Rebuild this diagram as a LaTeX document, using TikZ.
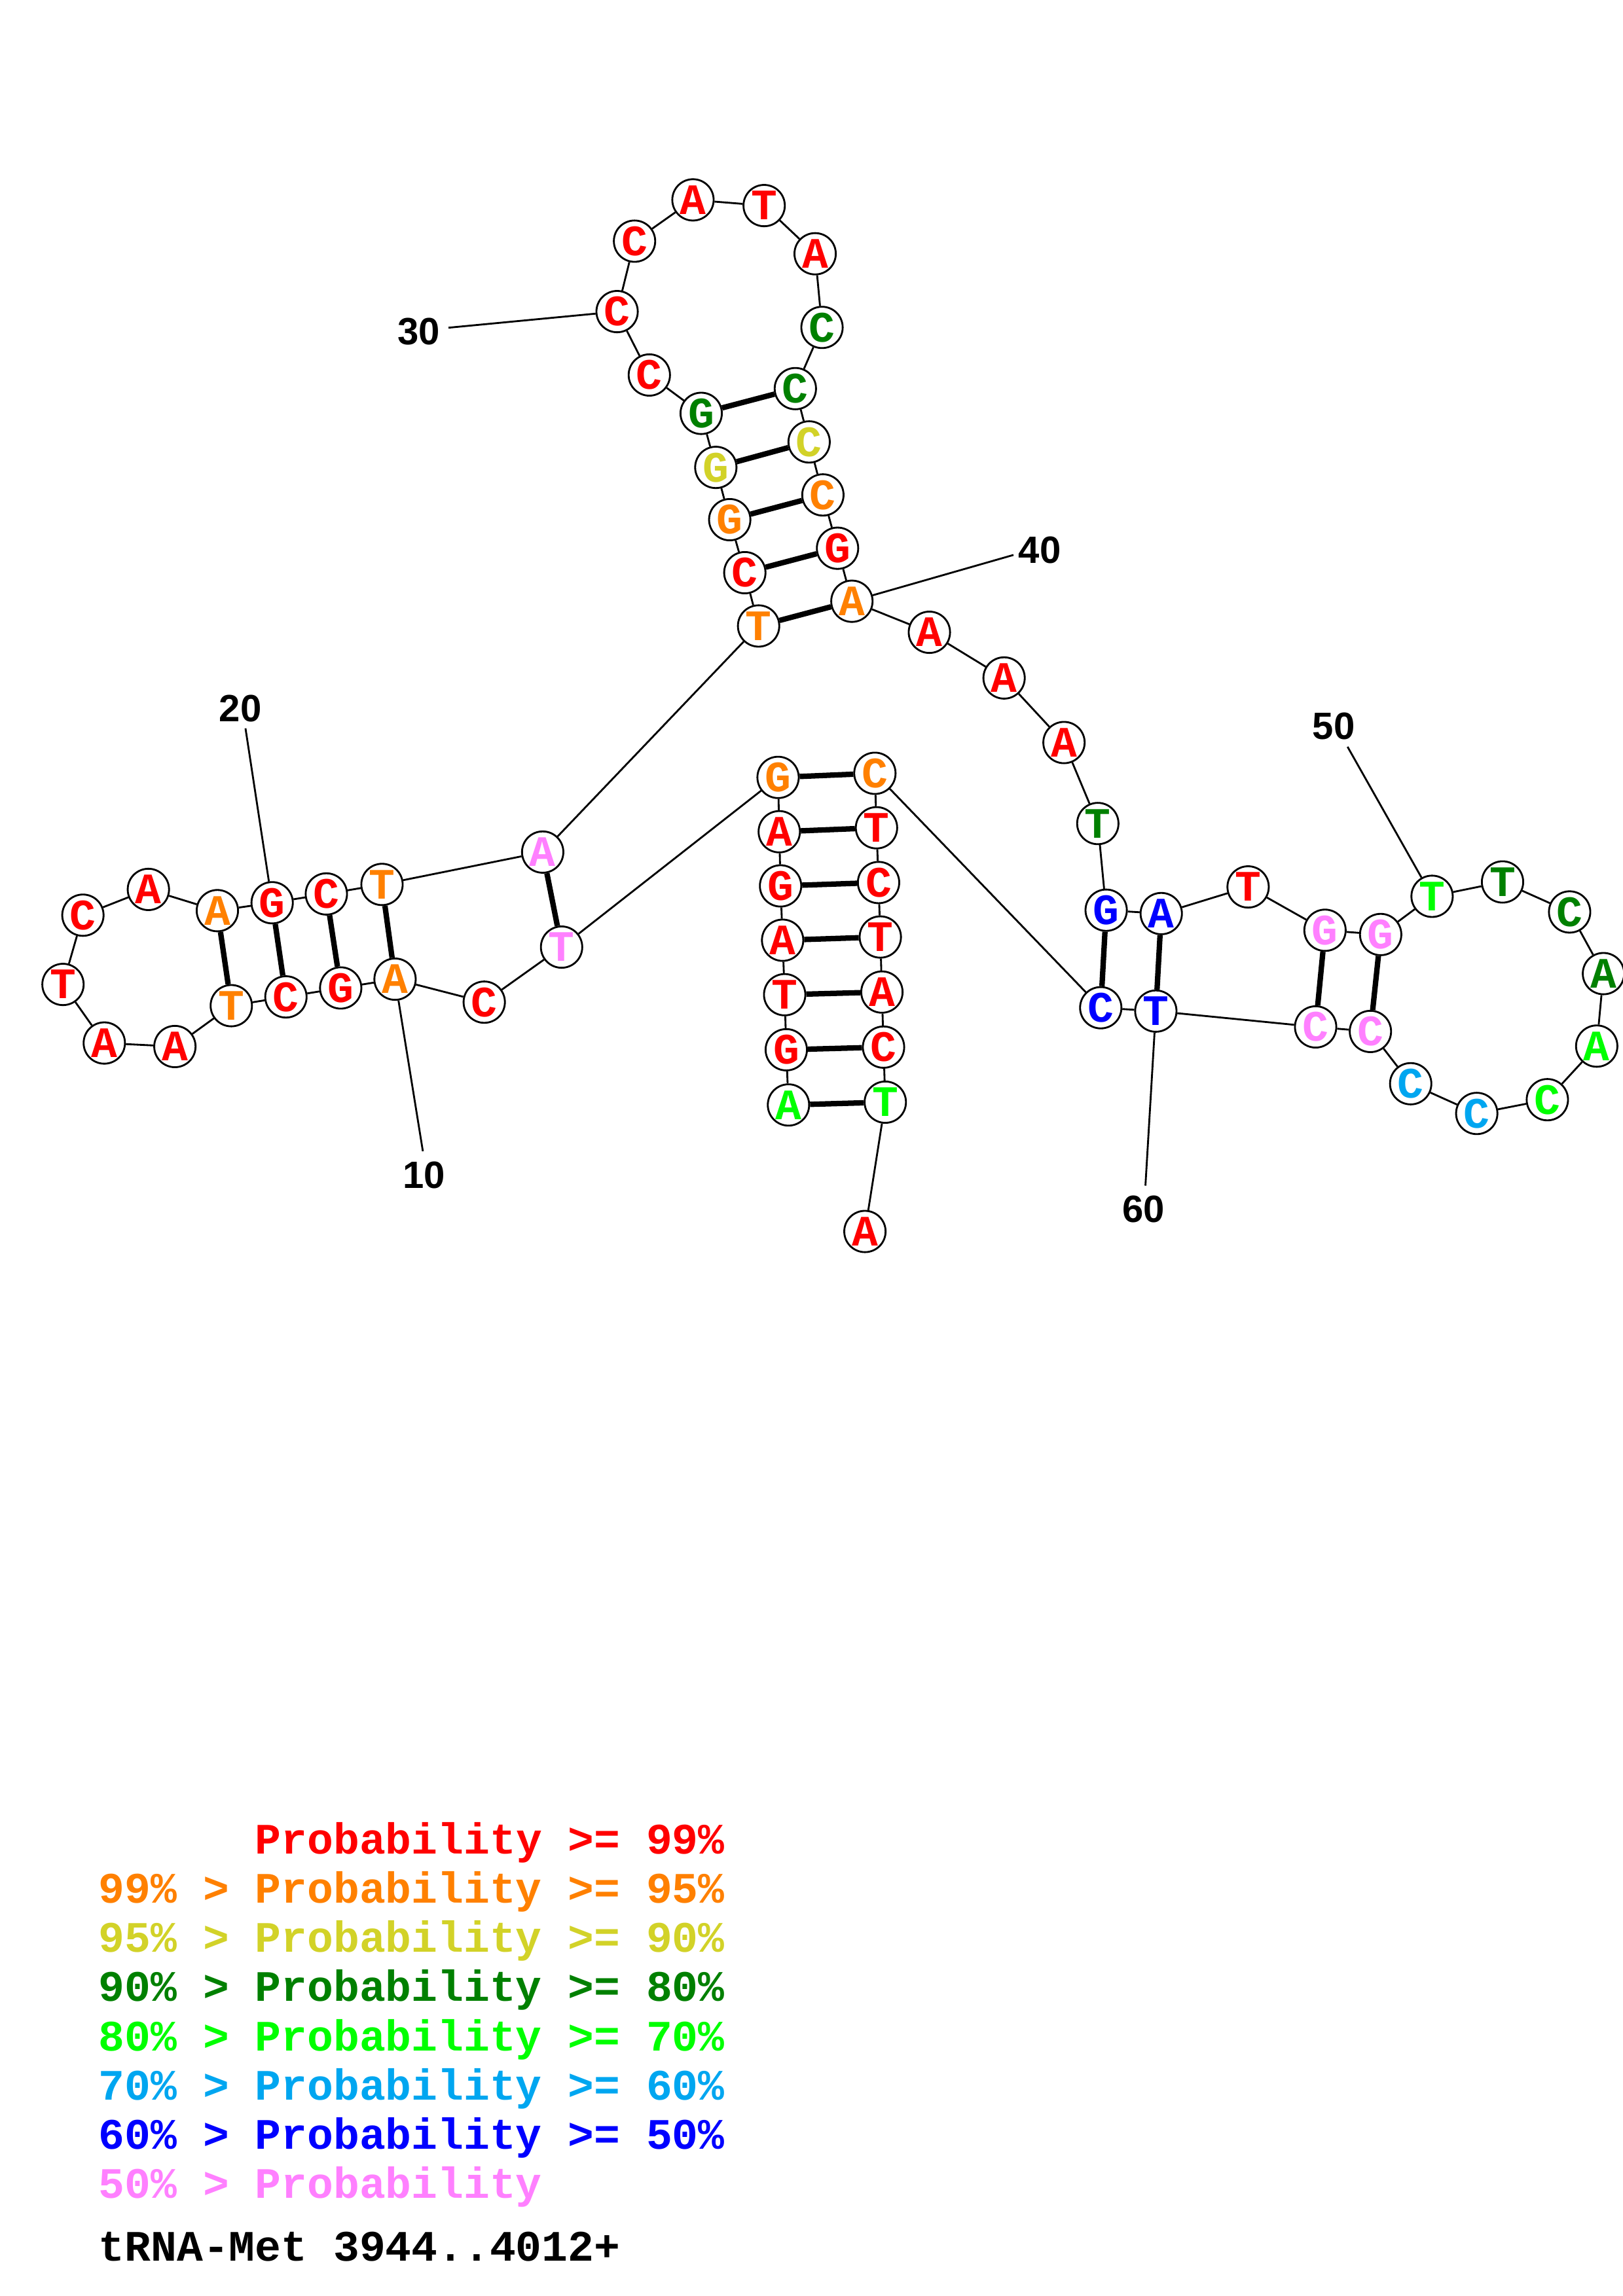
\documentclass[tikz,border=0pt]{standalone}
\usepackage{fontspec}
\setmonofont{Liberation Mono}
\newfontfamily\numfont{Liberation Sans}
\definecolor{pRed}{RGB}{255,0,0}
\definecolor{pOrange}{RGB}{255,128,0}
\definecolor{pYellow}{RGB}{210,210,40}
\definecolor{pDkGreen}{RGB}{0,128,0}
\definecolor{pGreen}{RGB}{0,255,0}
\definecolor{pSky}{RGB}{0,166,240}
\definecolor{pBlue}{RGB}{0,0,255}
\definecolor{pPink}{RGB}{255,128,255}

\begin{document}
\begin{tikzpicture}[
    x=0.189531mm, y=-0.189531mm,
    nt/.style={circle, draw, fill=white, line width=0.24mm, minimum size=5.35mm, inner sep=0pt, font=\ttfamily\bfseries\fontsize{16}{16}\selectfont},
    bb/.style={line width=0.24mm},
    bp/.style={line width=0.7mm},
    numlab/.style={inner sep=0pt, font=\numfont\bfseries\fontsize{14}{14}\selectfont},
    leg/.style={anchor=base west, inner sep=0pt, font=\ttfamily\bfseries\fontsize{16}{16}\selectfont}
]
\useasboundingbox (0,0) rectangle (1108,1568);

% nucleotides: number/x/y/base/colour
\foreach \i/\x/\y/\b/\c in {
    1/538.3/754.6/A/pGreen, 2/536.8/716.9/G/pRed, 3/535.7/679.3/T/pRed,
    4/534.3/642.1/A/pRed, 5/532.9/605.0/G/pRed, 6/532.0/568.0/A/pRed,
    7/531.2/530.9/G/pOrange, 8/383.4/646.8/T/pPink, 9/330.6/684.4/C/pRed,
    10/269.7/668.7/A/pOrange, 11/232.6/674.7/G/pRed, 12/195.2/680.8/C/pRed,
    13/157.9/686.8/T/pOrange, 14/119.4/714.7/A/pRed, 15/71.2/712.3/A/pRed,
    16/43.0/672.3/T/pRed, 17/56.6/625.0/C/pRed, 18/101.3/607.4/A/pRed,
    19/148.4/621.9/A/pOrange, 20/185.8/616.5/G/pRed, 21/222.8/610.5/C/pRed,
    22/260.8/604.0/T/pOrange, 23/370.5/581.9/A/pPink, 24/517.9/427.5/T/pOrange,
    25/508.5/391.1/C/pRed, 26/498.2/354.9/G/pOrange, 27/488.7/319.2/G/pYellow,
    28/478.7/282.3/G/pDkGreen, 29/443.3/256.1/C/pRed, 30/421.3/212.8/C/pRed,
    31/433.2/164.7/C/pRed, 32/473.1/136.5/A/pRed, 33/521.7/140.4/T/pRed,
    34/556.5/173.3/A/pRed, 35/561.2/223.6/C/pDkGreen, 36/543.0/265.4/C/pDkGreen,
    37/552.4/301.8/C/pYellow, 38/561.8/338.0/C/pOrange, 39/571.8/374.4/G/pRed,
    40/581.6/410.6/A/pOrange, 41/634.5/431.8/A/pRed, 42/685.5/463.0/A/pRed,
    43/726.4/507.1/A/pRed, 44/749.5/562.4/T/pDkGreen, 45/755.2/621.6/G/pBlue,
    46/792.8/623.9/A/pBlue, 47/852.1/605.7/T/pRed, 48/904.6/635.3/G/pPink,
    49/942.6/638.2/G/pPink, 50/977.7/612.1/T/pGreen, 51/1025.8/602.3/T/pDkGreen,
    52/1071.6/622.8/C/pDkGreen, 53/1094.7/664.9/A/pDkGreen, 54/1090.1/714.4/A/pGreen,
    55/1056.4/751.0/C/pGreen, 56/1008.2/760.4/C/pSky, 57/963.1/740.1/C/pSky,
    58/935.6/704.4/C/pPink, 59/898.2/701.3/C/pPink, 60/789.1/690.5/T/pBlue,
    61/751.5/688.2/C/pBlue, 62/597.3/528.1/C/pOrange, 63/598.4/565.3/T/pRed,
    64/599.8/602.7/C/pRed, 65/601.0/639.9/T/pRed, 66/602.1/677.5/A/pRed,
    67/603.2/715.1/C/pRed, 68/604.4/752.7/T/pGreen, 69/590.5/841.0/A/pRed}
    \node[nt, text=\c] (n\i) at (\x,\y) {\b};

% backbone
\foreach \i [count=\j from 2] in {1,...,68}
    \draw[bb] (n\i) -- (n\j);

% base pairs
\foreach \a/\b in {1/68, 2/67, 3/66, 4/65, 5/64, 6/63, 7/62, 8/23,
    10/22, 11/21, 12/20, 13/19, 24/40, 25/39, 26/38, 27/37, 28/36,
    45/61, 46/60, 48/59, 49/58}
    \draw[bp] (n\a) -- (n\b);

% position numbers
\foreach \i/\tx/\ty/\lx/\ly in {10/288.7/786.2/289.5/802.6, 20/167.6/497.4/164.1/483.8,
    30/306.2/223.8/285.9/226.4, 40/691.9/379.0/709.8/375.9,
    50/920.0/510.0/910.5/496.0, 60/782.0/809.7/780.8/825.6} {
    \coordinate (t\i) at (\tx,\ty);
    \draw[bb] (n\i) -- (t\i);
    \node[numlab] (lab\i) at (\lx,\ly) {\i};
}

% legend
\node[leg, text=pRed] (leg1) at (67,1266) {\phantom{99\% > }Probability >= 99\%};
\node[leg, text=pOrange] (leg2) at (67,1299.6) {99\% > Probability >= 95\%};
\node[leg, text=pYellow] (leg3) at (67,1333.2) {95\% > Probability >= 90\%};
\node[leg, text=pDkGreen] (leg4) at (67,1366.8) {90\% > Probability >= 80\%};
\node[leg, text=pGreen] (leg5) at (67,1400.4) {80\% > Probability >= 70\%};
\node[leg, text=pSky] (leg6) at (67,1434) {70\% > Probability >= 60\%};
\node[leg, text=pBlue] (leg7) at (67,1467.6) {60\% > Probability >= 50\%};
\node[leg, text=pPink] (leg8) at (67,1501.2) {50\% > Probability};
\node[leg] (title) at (67,1544) {tRNA-Met 3944..4012+};
\end{tikzpicture}
\end{document}
